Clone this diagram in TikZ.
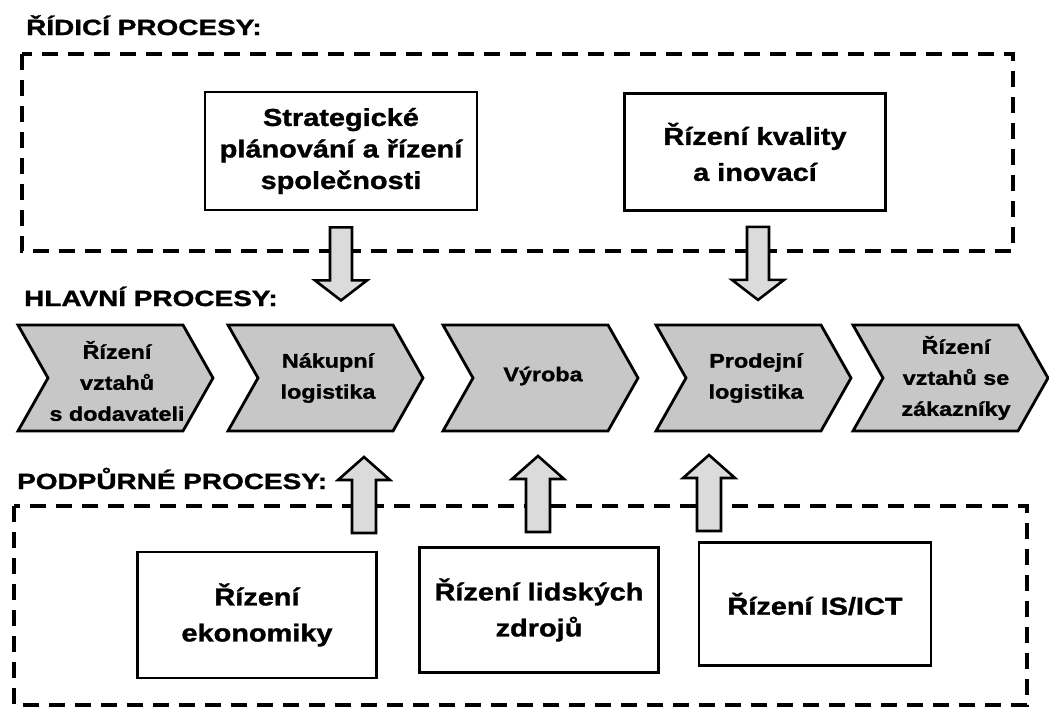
\documentclass[tikz,border=0pt]{standalone}
\usepackage{fontspec}
\setmainfont{Liberation Sans}
\newfontfamily\titfont[FakeStretch=1.27,FakeBold=1.4]{Liberation Sans}
\newfontfamily\boxfont[FakeStretch=1.18,FakeBold=1.3]{Liberation Sans}
\newfontfamily\chevfont[FakeStretch=1.18,FakeBold=1.3]{Liberation Sans}
\usetikzlibrary{calc}
\definecolor{chevfill}{gray}{0.78}
\definecolor{arrfill}{gray}{0.86}
\begin{document}
\begin{tikzpicture}[x=1pt,y=-1pt,
  title/.style={anchor=base west, font=\titfont\bfseries\fontsize{22}{26}\selectfont, inner sep=0},
  procbox/.style={draw, line width=2.8pt, align=center, inner sep=0, font=\boxfont\bfseries\fontsize{24.5}{36}\selectfont},
  chevtext/.style={align=center, font=\chevfont\bfseries\fontsize{19.8}{31}\selectfont, inner sep=0},
  chevron/.style={draw, line width=2.8pt, fill=chevfill, line join=miter},
  dashbox/.style={draw, line width=3.5pt, dash pattern=on 16pt off 10pt},
  blockarrow/.style={draw, line width=2.6pt, fill=arrfill, line join=miter},
  downarrow/.pic={\draw[blockarrow] (-11,0) -- (11,0) -- (11,53) -- (26,53) -- (0,73) -- (-26,53) -- (-11,53) -- cycle;},
  uparrow/.pic={\draw[blockarrow] (-12,0) -- (12,0) -- (12,-53) -- (26,-53) -- (0,-76) -- (-26,-53) -- (-12,-53) -- cycle;}]

\useasboundingbox (0,0) rectangle (1049,715);

% titles
\node[title] (t1) at (26,35) {ŘÍDICÍ PROCESY:};
\node[title] (t2) at (24,306) {HLAVNÍ PROCESY:};
\node[title] (t3) at (17,489) {PODPŮRNÉ PROCESY:};

% dashed frames
\draw[dashbox] (22,54) rectangle (1013,251);
\draw[dashbox] (14,506) rectangle (1027,705);

% top boxes
\node[procbox, minimum width=272, minimum height=118, font=\boxfont\bfseries\fontsize{24.5}{31.5}\selectfont] (A) at (341,151) {Strategické\\plánování a řízení\\společnosti};
\node[procbox, minimum width=261, minimum height=117] (B) at (755,152) {Řízení kvality\\a inovací};

% bottom boxes
\node[procbox, minimum width=239, minimum height=126] (C) at (257,615) {Řízení\\ekonomiky};
\node[procbox, minimum width=239, minimum height=125] (D) at (539,610) {Řízení lidských\\zdrojů};
\node[procbox, minimum width=232, minimum height=123] (E) at (815,604) {Řízení IS/ICT};

% chevrons
\newcommand\chevshape[1]{\draw[chevron] (#1,325) -- (#1+165,325) -- (#1+195,378) -- (#1+165,431) -- (#1,431) -- (#1+30,378) -- cycle;}
\chevshape{18}
\node[chevtext] (c1) at (117,381) {Řízení\\vztahů\\s dodavateli};
\chevshape{228}
\node[chevtext] (c2) at (328,378) {Nákupní\\logistika};
\chevshape{443}
\node[chevtext] (c3) at (543,376) {Výroba};
\chevshape{656}
\node[chevtext] (c4) at (756,378) {Prodejní\\logistika};
\chevshape{853}
\node[chevtext] (c5) at (956,378) {Řízení\\vztahů se\\zákazníky};

% block arrows
\coordinate (a1) at ($(A.south)+(0,16)$);
\coordinate (a2) at ($(B.south)+(3,15)$);
\pic at (a1) {downarrow};
\pic at (a2) {downarrow};
\coordinate (u1) at (364,533);
\coordinate (u2) at (538,532);
\coordinate (u3) at (709,531);
\pic at (u1) {uparrow};
\pic at (u2) {uparrow};
\pic at (u3) {uparrow};
\end{tikzpicture}
\end{document}
